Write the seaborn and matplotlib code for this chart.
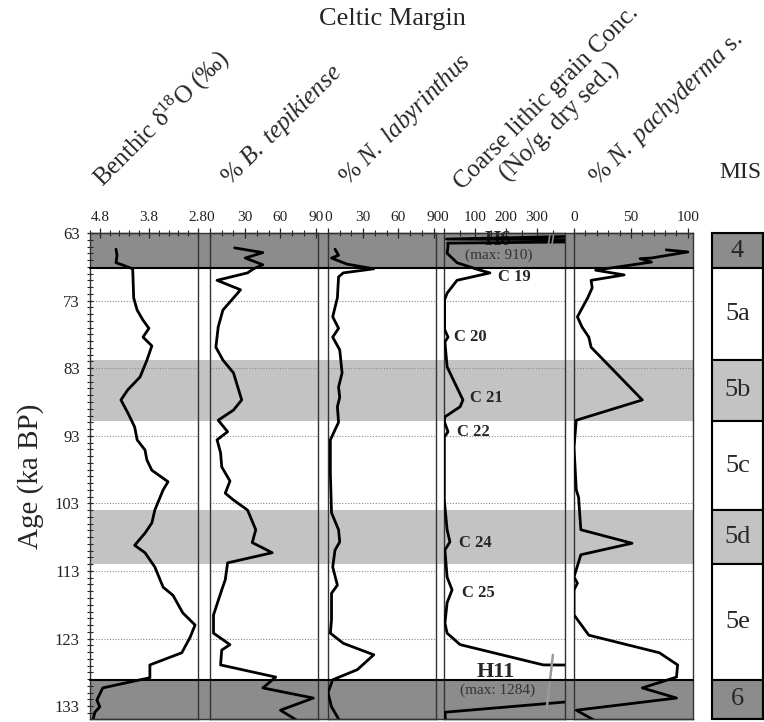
import numpy as np
import pandas as pd
import matplotlib
matplotlib.use("Agg")
import matplotlib.pyplot as plt
import matplotlib.transforms as mtransforms
from matplotlib.lines import Line2D
from matplotlib.patches import Rectangle
from matplotlib.ticker import MultipleLocator, FixedLocator
import seaborn as sns

# ---------------- data ----------------
d18o_age = [65.4, 66.3, 67.4, 67.7, 68.3, 72.6, 74.4, 75.9, 77.1, 78.4, 79.7, 81.8, 84.3, 86.2,
            87.7, 89.6, 91.7, 93.6, 95.1, 96.6, 98.1, 99.8, 101.0, 104.0, 105.9, 107.4, 109.2,
            110.3, 112.4, 115.4, 116.6, 119.2, 121.0, 122.8, 125.1, 126.9, 128.8, 129.1, 130.3,
            132.1, 133.1, 133.9, 135.0]
d18o_val = [4.47, 4.45, 4.47, 4.35, 4.13, 4.11, 4.04, 3.92, 3.80, 3.92, 3.74, 3.84, 3.98, 4.23,
            4.37, 4.23, 4.09, 4.04, 3.88, 3.84, 3.74, 3.41, 3.51, 3.68, 3.74, 3.88, 4.09,
            3.88, 3.68, 3.51, 3.31, 3.11, 2.86, 2.96, 3.13, 3.78, 3.78, 3.98, 4.74,
            4.86, 4.80, 4.90, 4.94]

tep_age = [65.2, 65.9, 66.7, 67.7, 68.3, 68.9, 70.0, 71.4, 73.2, 74.4, 76.9, 79.9, 81.8, 83.7,
           87.7, 89.2, 90.7, 92.4, 93.6, 95.5, 97.6, 99.7, 101.5, 102.5, 104.0, 106.9, 108.8,
           110.3, 111.8, 114.3, 115.8, 119.5, 122.2, 123.9, 124.7, 126.9, 128.7, 130.3, 131.8,
           133.6, 135.2]
tep_val = [21, 45, 30, 45, 37, 32, 6, 26, 17, 11, 7, 5, 11, 20,
           27, 20, 7, 15, 6, 9, 10, 17, 13, 20, 32, 39, 36,
           53, 15, 13, 10, 3, 3, 17, 10, 9, 56, 45, 88,
           60, 75]

lab_age = [65.4, 66.3, 66.7, 67.6, 68.3, 68.9, 69.5, 72.6, 75.4, 77.1, 78.4, 80.3, 83.7, 85.8,
           87.3, 88.7, 91.0, 93.6, 98.5, 104.4, 106.9, 108.7, 109.9, 112.4, 115.1, 116.3,
           120.2, 122.2, 123.7, 125.4, 127.6, 129.1, 131.0, 133.1, 135.2]
lab_val = [6, 9, 3, 16, 39, 13, 9, 8, 4, 9, 4, 10, 12, 9,
           10, 8, 9, 2, 2, 3, 9, 10, 6, 4, 8, 3,
           3, 2, 13, 39, 25, 4, 0, 3, 10]

lith_age = [63.2, 63.9, 64.1, 64.5, 64.9, 66.0, 67.4, 68.5, 68.9, 70.0, 71.9, 72.9, 77.3, 78.4,
            79.1, 82.8, 87.7, 88.7, 90.2, 90.9, 92.4, 93.2, 102.5, 106.9, 108.7, 109.9, 113.9,
            115.8, 117.7, 120.7, 122.2, 123.9, 126.9, 127.1, 128.9, 133.9, 135.2]
lith_val = [700, 8, 910, 12, 13, 10, 42, 116, 148, 42, 10, 2, 2, 13,
            3, 10, 61, 52, 3, 1, 13, 1, 1, 10, 19, 3, 10,
            26, 10, 3, 10, 52, 320, 1284, 1284, 3, 5]

pach_age = [65.5, 65.8, 66.7, 66.8, 67.3, 68.5, 69.2, 70.0, 71.1, 72.6, 75.4, 76.9, 78.4, 79.9,
            87.7, 90.7, 94.7, 101.0, 102.1, 106.9, 108.9, 110.6, 113.9, 114.8, 115.8, 119.5,
            122.5, 125.1, 126.9, 128.7, 130.3, 131.8, 133.6, 135.2]
pach_val = [81, 100, 68, 58, 68, 19, 44, 15, 16, 12, 3, 7, 13, 15,
            60, 2, 0, 2, 4, 6, 51, 6, 0, 3, 0, 0,
            13, 75, 91, 90, 60, 90, 2, 19]

mis_labels = ["4", "5a", "5b", "5c", "5d", "5e", "6"]
mis_top = [63.0, 68.2, 81.8, 90.8, 104.0, 112.0, 129.1]
mis_bottom = [68.2, 81.8, 90.8, 104.0, 112.0, 129.1, 134.9]
mis_shade = ["dark", "white", "light", "white", "light", "white", "dark"]

age_ticks = [63, 73, 83, 93, 103, 113, 123, 133]

events_lab = ["C 19", "C 20", "C 21", "C 22", "C 24", "C 25"]
events_age = [69.5, 78.4, 87.4, 92.4, 108.9, 116.3]
events_x = [174, 32, 84, 42, 48, 58]

# ---------------- style ----------------
sns.set_theme(style="ticks")
plt.rcParams["font.family"] = ["Liberation Serif", "DejaVu Serif"]
plt.rcParams["mathtext.fontset"] = "custom"
plt.rcParams["mathtext.rm"] = "Liberation Serif"
plt.rcParams["mathtext.it"] = "Liberation Serif:italic"
plt.rcParams["mathtext.bf"] = "Liberation Serif:bold"

COL = {"dark": "#8c8c8c", "light": "#c3c3c3", "white": "#ffffff"}
W, H = 764, 722
Y_TOP, Y_BOT = 233, 719
YLIM = (134.9, 63)

fig = plt.figure(figsize=(W / 100, H / 100), dpi=100)


def box(x0, x1):
    return [x0 / W, (H - Y_BOT) / H, (x1 - x0) / W, (Y_BOT - Y_TOP) / H]


panels = [
    dict(ext=(90, 198), age=d18o_age, val=d18o_val, xlim=(5.0, 2.8), major=[4.8, 3.8, 2.8], minor=0.2,
         labels=["4.8", "3.8", "2.8"]),
    dict(ext=(210, 318), age=tep_age, val=tep_val, xlim=(0, 92), major=[0, 30, 60, 90], minor=10,
         labels=["0", "30", "60", "90"]),
    dict(ext=(328, 436), age=lab_age, val=lab_val, xlim=(0, 92), major=[0, 30, 60, 90], minor=10,
         labels=["0", "30", "60", "90"]),
    dict(ext=(444, 565), age=lith_age, val=lith_val, xlim=(0, 390), major=[0, 100, 200, 300], minor=50,
         labels=["0", "100", "200", "300"]),
    dict(ext=(574, 693), age=pach_age, val=pach_val, xlim=(0, 104.5), major=[0, 50, 100], minor=10,
         labels=["0", "50", "100"]),
]

axes = []
for i, p in enumerate(panels):
    ax = fig.add_axes(box(*p["ext"]))
    ax.set_facecolor("none")
    df = pd.DataFrame({"age": p["age"], "val": p["val"]})
    sns.lineplot(data=df, x="val", y="age", orient="y", sort=False, estimator=None,
                 color="black", lw=2.0, ax=ax, zorder=5)
    ax.set_xlim(*p["xlim"])
    ax.set_ylim(*YLIM)
    ax.set_xlabel("")
    ax.set_ylabel("")
    ax.xaxis.tick_top()
    ax.xaxis.set_major_locator(FixedLocator(p["major"]))
    ax.set_xticklabels(p["labels"])
    ax.xaxis.set_minor_locator(MultipleLocator(p["minor"]))
    ax.tick_params(axis="x", which="major", direction="inout", length=7, width=0.9,
                   labelsize=11, pad=3, colors="#222")
    ax.tick_params(axis="x", which="minor", direction="inout", length=4, width=0.8, colors="#222")
    ax.yaxis.set_major_locator(FixedLocator(age_ticks))
    ax.yaxis.set_minor_locator(MultipleLocator(1))
    if i == 0:
        ax.tick_params(axis="y", which="major", direction="inout", length=5, width=0.9,
                       labelsize=12, pad=5, colors="#222")
        ax.tick_params(axis="y", which="minor", direction="inout", length=4, width=0.8, colors="#222")
    else:
        ax.tick_params(axis="y", which="both", length=0, labelleft=False)
    ax.grid(axis="y", which="major", ls=(0, (1, 1.5)), color="#8a8a8a", lw=0.8)
    ax.grid(axis="x", visible=False)
    ax.set_axisbelow(True)
    for s in ax.spines.values():
        s.set_color("#333")
        s.set_linewidth(1.0)
    axes.append(ax)

ax1 = axes[0]
blend = mtransforms.blended_transform_factory(fig.transFigure, ax1.transData)
X0, X1 = 90 / W, 693 / W

# MIS shading across all panels (incl. gaps)
for t, b, s in zip(mis_top, mis_bottom, mis_shade):
    if s != "white":
        fig.add_artist(Rectangle((X0, t), X1 - X0, b - t, transform=blend,
                                 facecolor=COL[s], edgecolor="none", zorder=-1))

for a in [68.2, 129.1]:
    fig.add_artist(Line2D([X0, X1], [a, a], transform=blend, color="black", lw=1.5, zorder=4))
for a in [63.0, 134.9]:
    fig.add_artist(Line2D([X0, X1], [a, a], transform=blend, color="#333", lw=1.0, zorder=4))

# lithic annotations
ax4 = axes[3]
for lab, a, x in zip(events_lab, events_age, events_x):
    ax4.text(x, a, lab, fontsize=12, fontweight="bold", ha="left", va="center", zorder=6)
ax4.text(175, 64.0, "H6", fontsize=15, fontweight="bold", ha="center", va="center", zorder=4)
ax4.text(175, 66.3, "(max: 910)", fontsize=11, color="#333", ha="center", va="center", zorder=6)
ax4.text(168, 128.0, "H11", fontsize=16, fontweight="bold", ha="center", va="center", zorder=6)
ax4.text(172, 130.6, "(max: 1284)", fontsize=11, color="#333", ha="center", va="center", zorder=6)
# axis-break marks
for dx in [0.0, 0.03]:
    ax4.plot([0.86 + dx, 0.875 + dx], [0.972, 0.996], transform=ax4.transAxes, color="#888",
             lw=1.2, clip_on=False, zorder=6)
ax4.plot([0.90, 0.85], [0.132, 0.023], transform=ax4.transAxes, color="#999", lw=1.8, zorder=6)

# Y label
ax1.set_ylabel("Age (ka BP)", fontsize=21, labelpad=8)

# MIS column
axm = fig.add_axes(box(712, 763))
axm.set_xlim(0, 1)
axm.set_ylim(*YLIM)
for lab, t, b, s in zip(mis_labels, mis_top, mis_bottom, mis_shade):
    axm.axhspan(t, b, facecolor=COL[s], edgecolor="black", lw=1.5)
    axm.text(0.5, (t + b) / 2, lab, ha="center", va="center", fontsize=19)
axm.set_xticks([])
axm.set_yticks([])
for s in axm.spines.values():
    s.set_color("black")
    s.set_linewidth(1.5)

# titles
fig.text(392 / W, 1 - 19 / H, "Celtic Margin", ha="center", va="center", fontsize=19)
col_titles = [
    ((103, 188), r"Benthic δ$^{18}$O (‰)"),
    ((230, 186), r"% $\mathit{B.\ tepikiense}$"),
    ((348, 186), r"% $\mathit{N.\ labyrinthus}$"),
    ((462, 190), "Coarse lithic grain Conc."),
    ((508, 182), "(No/g. dry sed.)"),
    ((598, 186), r"% $\mathit{N.\ pachyderma}$ s."),
]
for (x, y), s in col_titles:
    fig.text(x / W, 1 - y / H, s, rotation=45, rotation_mode="anchor", ha="left", va="baseline",
             fontsize=18)
fig.text(740 / W, 1 - 172 / H, "MIS", ha="center", va="center", fontsize=17)

fig.savefig("out.png", dpi=100)
